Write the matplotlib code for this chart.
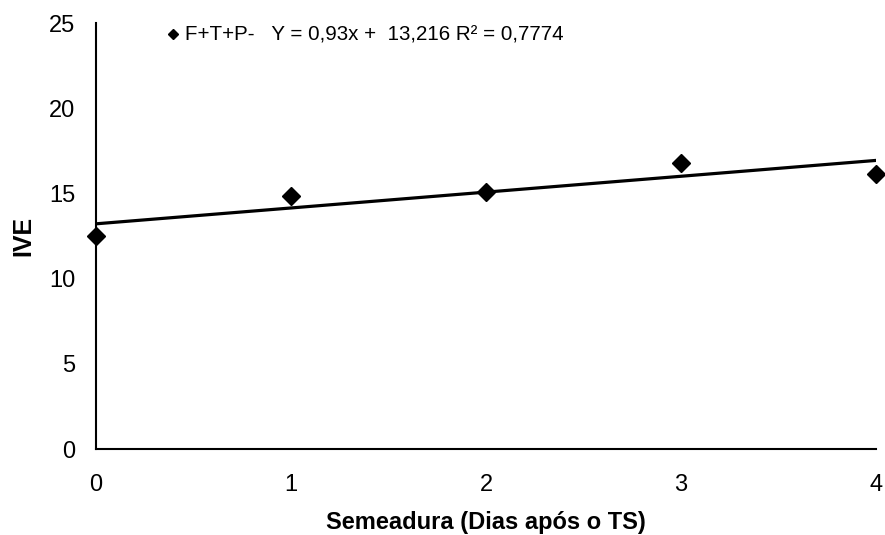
import numpy as np
import matplotlib
matplotlib.use("Agg")
import matplotlib.pyplot as plt

# Semeadura (dias apos o TS) vs IVE
dias = [0, 1, 2, 3, 4]
ive = [12.5, 14.85, 15.1, 16.8, 16.13]

# linear trendline as reported in the chart
slope = 0.93
intercept = 13.216
r2 = 0.7774
serie = "F+T+P-"

x_ticks = [0, 1, 2, 3, 4]
y_ticks = [0, 5, 10, 15, 20, 25]

plt.rcParams["font.family"] = ["Liberation Sans", "DejaVu Sans"]

fig = plt.figure(figsize=(8.85, 5.35), dpi=100)
ax = fig.add_axes([0.1085, 0.1607, 0.8813, 0.7963])

xs = np.array([dias[0], dias[-1]])
ax.plot(xs, slope * xs + intercept, color="black", lw=2.3, zorder=2)
ax.plot(dias, ive, linestyle="none", marker="D", ms=9.5, color="black",
        zorder=3, clip_on=False)

# legend entry with equation text
ax.plot([], [], linestyle="none", marker="D", ms=5, color="black",
        label=f"{serie}   Y = 0,93x +  13,216 R² = 0,7774")
ax.legend(loc="upper left", bbox_to_anchor=(0.067, 1.037), frameon=False,
          handlelength=0.6, handletextpad=0.3, fontsize=14.8)

ax.set_xlim(0, 4)
ax.set_ylim(0, 25)
ax.set_xticks(x_ticks)
ax.set_yticks(y_ticks)
ax.tick_params(length=0, labelsize=17)
ax.tick_params(axis="x", pad=18)
ax.tick_params(axis="y", pad=15)
for s in ["top", "right"]:
    ax.spines[s].set_visible(False)
for s in ["left", "bottom"]:
    ax.spines[s].set_linewidth(1.5)

ax.set_xlabel("Semeadura (Dias após o TS)", fontsize=17, fontweight="bold",
              labelpad=11)
ax.set_ylabel("IVE", fontsize=18, fontweight="bold", labelpad=10)

fig.savefig("out.png", dpi=100)
